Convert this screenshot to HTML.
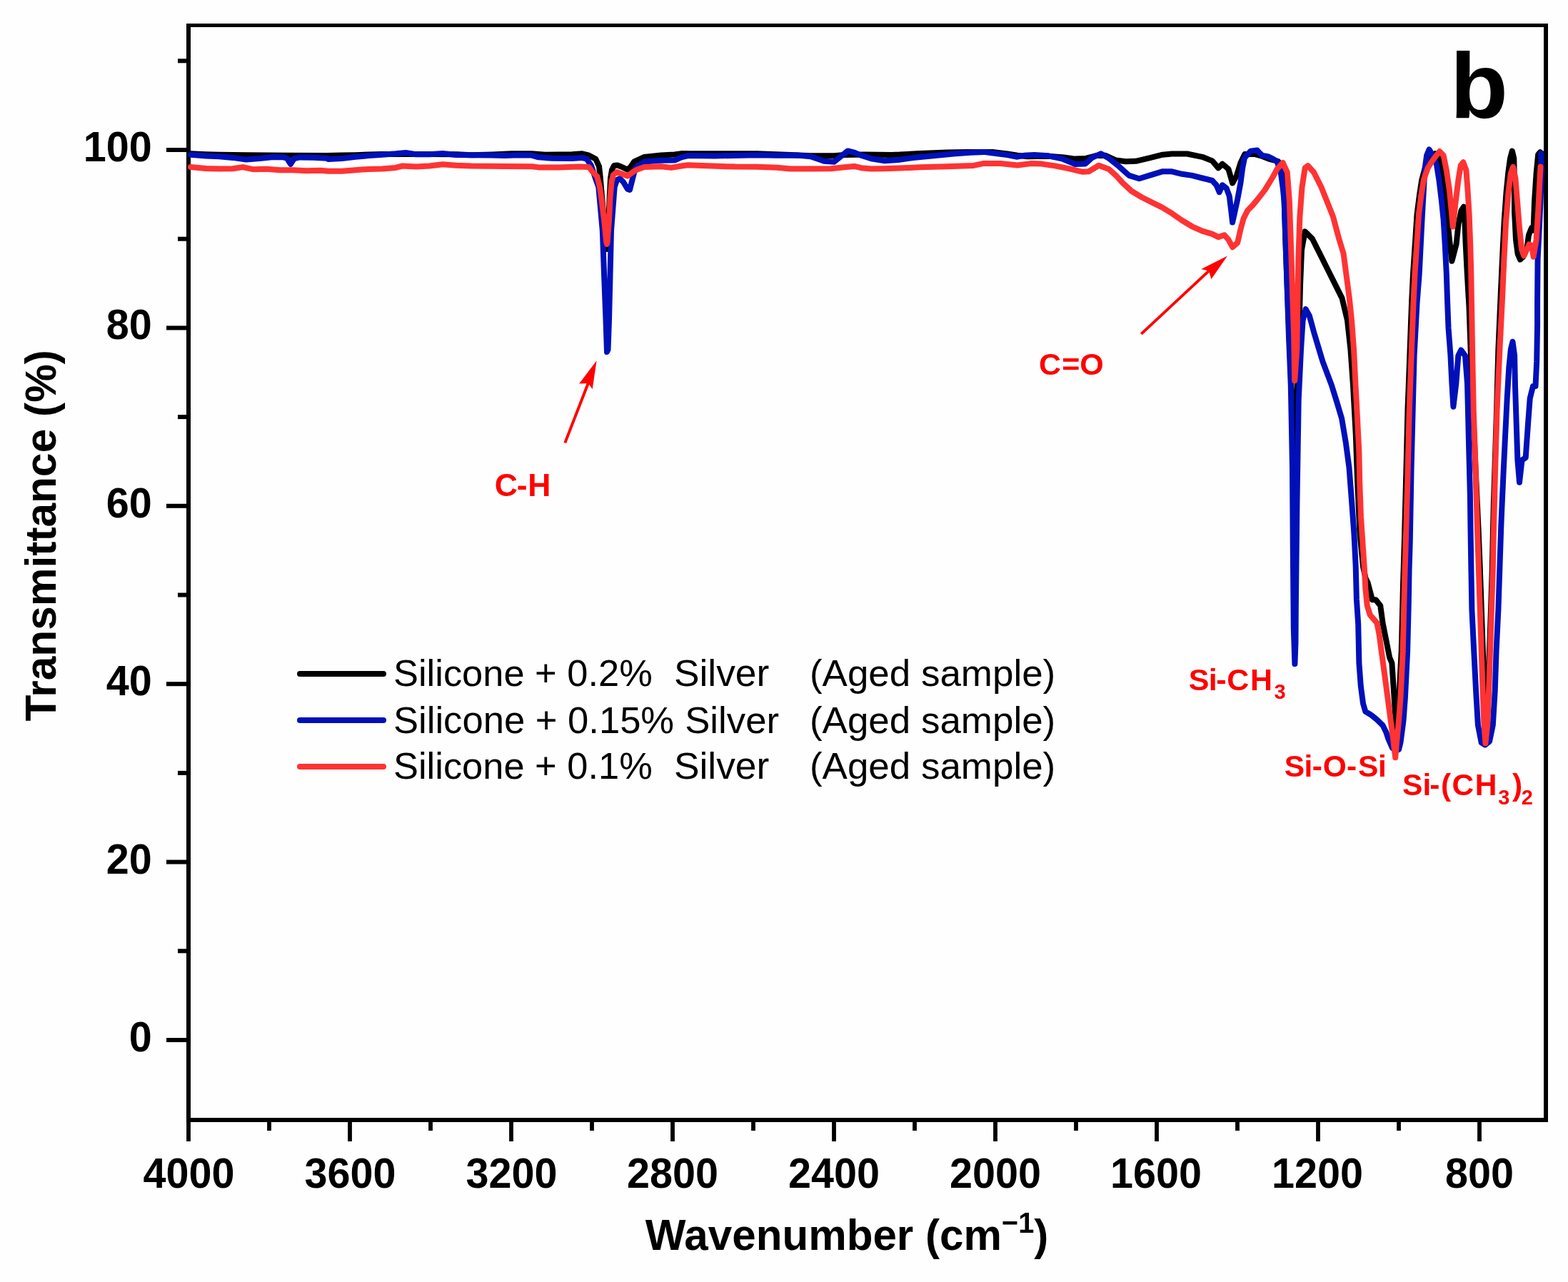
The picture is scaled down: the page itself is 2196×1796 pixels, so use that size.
<!DOCTYPE html>
<html><head><meta charset="utf-8"><title>FTIR spectra</title>
<style>
html,body{margin:0;padding:0;background:#fefefe;overflow:hidden;}
svg{display:block;}
text{font-family:"Liberation Sans",Arial,sans-serif;}
</style></head>
<body>
<svg width="2196" height="1796" viewBox="0 0 2196 1796">
<rect width="2196" height="1796" fill="#fefefe"/>
<rect x="261" y="33" width="1907" height="5" fill="#000"/>
<rect x="261" y="1566" width="1907" height="6" fill="#000"/>
<rect x="261" y="33" width="6" height="1539" fill="#000"/>
<rect x="2162" y="33" width="6" height="1539" fill="#000"/>
<rect x="233" y="1454.0" width="30" height="6" fill="#000"/>
<rect x="233" y="1204.6" width="30" height="6" fill="#000"/>
<rect x="233" y="955.2" width="30" height="6" fill="#000"/>
<rect x="233" y="705.8" width="30" height="6" fill="#000"/>
<rect x="233" y="456.4" width="30" height="6" fill="#000"/>
<rect x="233" y="207.0" width="30" height="6" fill="#000"/>
<rect x="249" y="1329.3" width="14" height="6" fill="#000"/>
<rect x="249" y="1079.9" width="14" height="6" fill="#000"/>
<rect x="249" y="830.5" width="14" height="6" fill="#000"/>
<rect x="249" y="581.1" width="14" height="6" fill="#000"/>
<rect x="249" y="331.7" width="14" height="6" fill="#000"/>
<rect x="249" y="82.3" width="14" height="6" fill="#000"/>
<rect x="261.1" y="1568" width="5.8" height="31" fill="#000"/>
<rect x="487.1" y="1568" width="5.8" height="31" fill="#000"/>
<rect x="713.1" y="1568" width="5.8" height="31" fill="#000"/>
<rect x="939.1" y="1568" width="5.8" height="31" fill="#000"/>
<rect x="1165.1" y="1568" width="5.8" height="31" fill="#000"/>
<rect x="1391.1" y="1568" width="5.8" height="31" fill="#000"/>
<rect x="1617.1" y="1568" width="5.8" height="31" fill="#000"/>
<rect x="1843.1" y="1568" width="5.8" height="31" fill="#000"/>
<rect x="2069.1" y="1568" width="5.8" height="31" fill="#000"/>
<rect x="374.1" y="1568" width="5.8" height="16" fill="#000"/>
<rect x="600.1" y="1568" width="5.8" height="16" fill="#000"/>
<rect x="826.1" y="1568" width="5.8" height="16" fill="#000"/>
<rect x="1052.1" y="1568" width="5.8" height="16" fill="#000"/>
<rect x="1278.1" y="1568" width="5.8" height="16" fill="#000"/>
<rect x="1504.1" y="1568" width="5.8" height="16" fill="#000"/>
<rect x="1730.1" y="1568" width="5.8" height="16" fill="#000"/>
<rect x="1956.1" y="1568" width="5.8" height="16" fill="#000"/>
<g fill="none" stroke-width="8" stroke-linejoin="round" stroke-linecap="round">
<polyline stroke="#000" points="267.0,215.3 288.0,216.2 307.0,216.7 345.0,217.2 400.0,217.7 458.0,218.1 478.8,217.5 497.7,217.2 516.5,216.5 535.0,216.0 600.0,216.0 640.0,216.2 660.0,217.2 690.0,216.5 716.5,215.3 744.8,215.3 763.6,216.7 801.3,216.2 815.4,215.3 824.9,217.7 834.3,222.8 839.0,233.0 840.6,247.0 843.0,275.0 847.0,320.0 850.0,349.0 852.0,320.0 853.5,280.0 855.0,250.0 857.0,238.0 860.0,232.0 864.7,231.5 870.0,233.5 878.8,237.7 883.0,234.0 888.3,226.4 902.4,220.0 925.9,217.4 944.8,216.5 954.2,215.1 968.3,215.3 1060.0,215.3 1107.1,216.9 1135.4,218.3 1168.3,218.3 1182.5,217.0 1210.7,216.4 1248.4,216.9 1260.0,216.6 1288.3,215.0 1325.9,213.6 1354.2,213.1 1391.9,213.1 1410.7,215.5 1424.9,217.8 1439.0,219.3 1468.3,218.8 1490.0,220.5 1505.9,222.6 1520.1,222.1 1535.0,218.0 1548.3,217.8 1562.5,224.4 1576.6,226.3 1590.7,225.8 1609.6,221.4 1628.4,216.7 1641.3,215.5 1662.5,215.5 1683.7,219.8 1697.8,225.4 1706.3,235.3 1712.0,229.7 1720.4,236.7 1726.1,256.5 1731.7,246.6 1737.4,228.3 1743.2,216.1 1757.0,216.0 1768.0,219.0 1777.0,222.6 1790.0,226.0 1796.7,235.3 1798.7,282.9 1800.7,345.0 1803.0,407.0 1805.5,469.0 1808.5,540.0 1811.0,600.0 1813.5,662.0 1815.5,600.0 1817.0,540.0 1819.0,480.0 1821.0,400.0 1823.0,350.0 1827.7,324.4 1838.0,334.7 1848.4,355.4 1858.8,376.2 1869.1,396.9 1879.5,417.6 1887.0,448.7 1891.5,490.2 1895.0,540.0 1898.8,609.2 1901.3,678.3 1904.5,747.5 1909.0,793.6 1912.5,810.0 1915.5,816.1 1921.9,840.3 1926.8,840.3 1933.2,848.4 1936.5,872.6 1941.3,896.8 1946.1,921.0 1949.4,929.0 1951.0,953.2 1952.6,977.4 1954.2,1001.6 1955.3,1030.0 1956.2,1030.0 1957.5,1010.0 1959.5,977.0 1961.0,945.0 1962.7,913.0 1963.5,880.0 1964.3,848.0 1965.1,816.0 1966.8,760.0 1969.5,655.0 1971.4,576.7 1974.3,498.3 1977.0,425.0 1979.0,383.6 1981.8,342.1 1984.5,300.6 1988.0,273.0 1991.2,252.2 1995.0,238.0 1999.0,226.0 2004.0,218.0 2010.0,215.0 2014.7,217.7 2018.8,238.4 2023.0,266.1 2026.4,300.6 2029.9,335.2 2033.4,365.7 2039.6,342.1 2042.4,314.5 2046.5,295.1 2050.0,289.6 2051.3,307.6 2052.7,342.1 2054.8,383.6 2057.5,430.0 2060.0,500.0 2063.0,576.0 2066.5,655.0 2070.5,740.0 2072.8,797.0 2074.8,854.0 2076.8,911.0 2078.8,968.0 2080.2,1000.0 2081.3,1018.0 2082.5,1000.0 2084.2,968.0 2086.0,911.0 2088.0,854.0 2089.8,797.0 2091.0,740.0 2092.0,700.0 2094.0,640.0 2096.0,575.0 2098.4,489.0 2101.4,420.0 2104.0,362.3 2106.7,309.3 2109.5,270.0 2112.5,240.0 2115.0,222.0 2117.8,211.5 2120.3,222.0 2120.8,250.0 2121.0,296.0 2123.0,336.0 2125.7,356.0 2129.0,363.6 2133.0,360.0 2138.3,349.1 2141.0,329.2 2145.0,319.2 2147.6,322.5 2149.0,282.8 2151.6,243.0 2154.2,216.5 2156.9,213.2 2159.5,215.2"/>
<polyline stroke="#0010b8" points="267.0,216.7 288.3,218.6 307.1,219.3 325.9,220.9 344.8,223.6 363.6,222.1 382.5,220.0 396.6,220.3 402.0,222.0 407.0,229.8 412.0,222.0 420.2,220.4 439.0,220.7 457.8,221.7 460.0,223.1 478.8,222.1 497.7,219.8 516.5,218.1 535.4,216.7 554.2,215.3 568.3,213.9 582.5,216.2 601.3,216.2 620.1,215.1 639.0,217.0 660.0,217.2 688.3,217.4 707.1,218.1 725.9,217.2 744.8,217.6 754.2,220.3 773.0,221.7 801.3,221.9 815.4,220.9 822.0,223.0 828.0,232.0 834.0,250.0 838.3,262.0 843.8,323.0 846.1,386.0 848.5,448.0 850.0,493.0 851.5,490.0 853.0,448.0 854.5,386.0 856.0,323.0 858.4,292.0 860.7,262.0 864.0,252.0 868.0,250.0 873.0,255.0 879.0,265.0 882.0,266.0 886.0,250.0 890.0,235.0 902.4,226.6 925.9,224.7 944.8,224.5 954.2,220.3 963.6,218.1 1001.3,218.4 1060.0,217.3 1088.3,217.8 1116.5,217.6 1135.4,219.2 1154.2,225.8 1168.3,226.7 1177.8,219.0 1187.2,211.5 1196.6,213.6 1206.0,217.6 1220.2,222.3 1239.0,225.3 1258.0,224.0 1278.8,221.1 1307.1,218.3 1335.4,215.5 1358.9,213.8 1377.8,212.9 1396.6,215.3 1410.7,217.1 1424.9,219.7 1434.3,217.8 1448.4,217.1 1468.3,218.3 1487.1,222.3 1505.9,230.0 1520.1,229.4 1529.5,220.9 1541.7,215.3 1553.0,221.8 1567.2,233.2 1581.3,245.9 1595.4,250.3 1609.6,245.9 1628.4,240.2 1641.3,240.3 1655.4,243.8 1669.6,245.9 1683.7,249.5 1697.8,253.0 1703.5,259.3 1707.7,269.2 1711.9,259.3 1717.6,263.6 1721.8,274.9 1724.7,298.9 1726.1,311.6 1728.9,298.9 1733.2,279.1 1737.4,256.5 1740.2,235.3 1743.0,221.2 1751.5,211.6 1760.6,210.4 1764.3,214.6 1768.1,218.0 1775.6,219.1 1783.2,222.9 1788.5,225.9 1793.9,242.4 1796.7,263.6 1798.7,282.9 1800.7,345.1 1802.8,407.3 1804.9,469.4 1807.8,540.0 1810.0,655.0 1810.8,770.0 1811.8,880.0 1813.4,930.0 1814.5,900.0 1814.8,850.0 1816.5,700.0 1818.7,560.0 1822.0,490.0 1824.6,448.7 1828.7,433.2 1833.9,442.5 1840.1,465.3 1846.3,486.0 1852.5,506.7 1858.8,523.3 1865.0,539.9 1872.2,563.0 1879.1,586.1 1884.9,620.7 1889.5,655.2 1893.0,701.4 1896.4,747.5 1898.7,793.6 1899.9,839.7 1902.2,874.3 1903.4,929.0 1905.8,961.3 1909.0,985.5 1912.3,996.8 1920.3,1001.6 1928.4,1008.1 1936.5,1016.1 1941.3,1025.8 1944.5,1035.5 1950.0,1048.0 1955.0,1052.0 1959.0,1050.0 1961.5,1040.0 1965.5,1009.7 1967.9,977.4 1969.5,945.2 1971.1,912.9 1971.9,880.6 1972.7,848.4 1973.5,800.0 1974.7,760.0 1976.6,655.0 1978.6,576.7 1980.6,498.3 1984.5,425.0 1987.7,383.6 1989.8,342.1 1991.9,300.6 1993.9,266.1 1995.3,238.4 1998.1,217.7 2001.5,209.4 2006.4,217.7 2011.9,230.1 2015.4,252.2 2018.8,279.9 2021.6,307.6 2023.7,342.1 2025.8,383.6 2027.0,420.0 2028.5,459.2 2031.5,498.3 2033.4,537.5 2035.4,569.8 2039.3,537.5 2042.3,498.3 2046.2,490.5 2052.0,498.3 2055.0,537.5 2056.0,576.7 2056.9,615.8 2057.9,655.0 2058.9,694.2 2059.5,740.0 2060.4,797.0 2061.4,854.1 2064.2,911.1 2067.1,968.1 2069.9,1015.7 2074.7,1040.4 2079.8,1043.5 2086.1,1038.5 2090.8,1015.7 2093.7,968.1 2095.6,911.1 2098.4,854.1 2100.3,797.0 2102.2,740.0 2103.0,720.0 2105.6,661.9 2108.1,610.1 2110.7,558.2 2113.3,515.0 2115.9,489.1 2118.5,478.7 2121.1,497.8 2122.0,540.9 2123.7,592.8 2125.4,644.6 2128.0,675.7 2131.5,644.6 2136.7,641.2 2140.1,592.8 2142.7,558.2 2147.0,541.0 2150.5,541.0 2152.2,506.4 2153.1,454.6 2153.1,420.0 2153.6,362.3 2155.6,322.6 2157.5,282.8 2158.9,243.0 2158.2,215.2"/>
<polyline stroke="#ff3333" points="267.0,233.9 288.3,236.0 307.1,236.5 325.9,236.3 340.1,234.1 354.2,237.2 373.0,236.7 391.9,238.2 410.7,238.2 429.6,239.3 448.4,238.8 460.0,239.8 478.8,239.8 497.7,238.2 516.5,236.9 535.4,236.5 554.2,234.9 563.6,232.5 582.5,233.4 601.3,232.5 620.1,230.3 639.0,231.7 660.0,232.5 707.1,233.0 744.8,233.2 754.2,234.4 782.5,234.6 810.7,233.6 824.9,234.1 829.6,240.5 836.2,247.1 840.0,262.0 842.2,277.0 846.1,308.0 849.2,339.0 850.0,342.0 850.6,339.0 853.0,308.0 854.5,277.0 856.5,255.0 859.0,245.0 864.0,241.0 869.4,243.0 878.8,246.6 888.0,240.0 893.0,237.2 902.4,233.9 925.9,233.2 940.1,234.9 954.2,232.5 963.6,231.3 982.5,232.0 1010.7,233.0 1029.6,233.6 1060.0,233.8 1088.3,234.8 1107.1,236.6 1135.4,236.5 1163.6,236.2 1182.5,234.3 1196.6,232.9 1206.0,235.2 1220.2,236.5 1239.0,236.2 1260.0,235.6 1288.3,234.3 1325.9,233.2 1363.6,231.9 1377.8,228.9 1401.3,229.1 1424.9,231.5 1443.7,229.1 1458.8,229.6 1477.7,232.4 1496.5,236.2 1515.4,240.7 1524.8,240.2 1538.9,231.7 1553.0,236.9 1562.5,245.4 1571.9,255.8 1584.8,267.8 1598.9,276.3 1613.0,283.4 1627.2,290.4 1641.3,298.9 1655.4,308.8 1669.6,317.3 1683.7,323.6 1697.8,327.9 1706.3,332.1 1714.8,329.3 1720.4,335.7 1726.1,346.2 1733.2,339.9 1737.4,321.5 1741.6,306.0 1747.3,294.7 1754.3,287.6 1761.4,279.1 1771.3,266.4 1782.6,248.0 1788.3,237.3 1791.1,233.9 1796.6,228.0 1802.8,241.5 1805.9,282.9 1808.0,345.1 1810.0,407.3 1812.1,469.4 1813.2,533.3 1816.3,490.2 1817.3,428.0 1818.3,365.8 1820.4,303.6 1823.5,262.2 1827.7,235.2 1831.8,232.1 1840.1,241.5 1850.5,262.2 1858.8,282.9 1867.0,303.6 1875.3,334.7 1881.6,355.4 1885.7,386.5 1889.8,417.6 1893.0,448.7 1896.1,490.2 1898.1,531.6 1901.0,586.1 1903.3,632.2 1904.3,678.3 1906.0,724.4 1909.1,770.5 1911.4,805.1 1912.3,824.2 1914.7,848.4 1918.7,861.3 1928.4,872.6 1931.6,888.7 1934.8,912.9 1938.1,937.1 1941.3,961.3 1944.5,985.5 1947.7,1009.7 1951.0,1033.9 1954.2,1061.3 1955.8,1041.9 1959.0,1009.7 1961.5,977.4 1963.1,945.2 1964.7,912.9 1965.5,880.6 1966.3,848.4 1967.1,816.1 1968.8,760.0 1971.8,655.0 1973.7,576.7 1976.6,498.3 1979.5,425.0 1981.5,383.6 1984.3,342.1 1987.0,300.6 1990.5,273.0 1993.9,252.2 1999.5,235.6 2006.4,224.6 2016.1,212.1 2021.6,217.7 2025.8,238.4 2029.9,266.1 2033.4,302.0 2034.7,317.5 2038.2,286.8 2042.4,252.2 2045.8,231.5 2049.3,227.3 2053.4,238.4 2055.5,266.1 2057.6,300.6 2059.2,342.1 2060.3,383.6 2061.0,425.0 2062.2,498.0 2063.8,576.7 2066.5,655.0 2069.0,740.0 2070.9,797.0 2072.8,854.1 2074.7,911.1 2076.6,968.1 2078.5,1015.7 2080.4,1041.3 2083.2,1015.7 2085.1,968.1 2087.0,911.1 2088.9,854.1 2090.8,797.0 2092.0,740.0 2094.2,655.0 2096.5,575.0 2100.4,489.1 2103.9,420.1 2106.5,362.3 2109.2,309.3 2112.5,269.5 2115.8,243.0 2119.1,233.8 2122.4,249.7 2125.1,282.8 2127.7,315.9 2131.0,349.1 2134.3,358.3 2138.3,349.1 2141.6,342.4 2145.0,343.8 2147.6,359.7 2151.6,335.8 2154.2,296.0 2156.2,256.3 2157.5,233.7"/>
</g>
<line x1="420" y1="944" x2="537" y2="944" stroke="#000" stroke-width="8" stroke-linecap="round"/>
<line x1="420" y1="1009" x2="537" y2="1009" stroke="#0010b8" stroke-width="8" stroke-linecap="round"/>
<line x1="420" y1="1074" x2="537" y2="1074" stroke="#ff3333" stroke-width="8" stroke-linecap="round"/>
<text transform="translate(180.80,1472.90) scale(0.9750,1)" font-size="59" font-weight="bold" fill="#000">0</text>
<text transform="translate(148.80,1223.50) scale(0.9750,1)" font-size="59" font-weight="bold" fill="#000">20</text>
<text transform="translate(148.80,974.10) scale(0.9750,1)" font-size="59" font-weight="bold" fill="#000">40</text>
<text transform="translate(148.80,724.70) scale(0.9750,1)" font-size="59" font-weight="bold" fill="#000">60</text>
<text transform="translate(148.80,475.30) scale(0.9750,1)" font-size="59" font-weight="bold" fill="#000">80</text>
<text transform="translate(116.80,225.90) scale(0.9750,1)" font-size="59" font-weight="bold" fill="#000">100</text>
<text transform="translate(200.50,1664.30) scale(0.9750,1)" font-size="59" font-weight="bold" fill="#000">4000</text>
<text transform="translate(426.50,1664.30) scale(0.9750,1)" font-size="59" font-weight="bold" fill="#000">3600</text>
<text transform="translate(652.50,1664.30) scale(0.9750,1)" font-size="59" font-weight="bold" fill="#000">3200</text>
<text transform="translate(878.00,1664.30) scale(0.9750,1)" font-size="59" font-weight="bold" fill="#000">2800</text>
<text transform="translate(1104.00,1664.30) scale(0.9750,1)" font-size="59" font-weight="bold" fill="#000">2400</text>
<text transform="translate(1330.00,1664.30) scale(0.9750,1)" font-size="59" font-weight="bold" fill="#000">2000</text>
<text transform="translate(1555.00,1664.30) scale(0.9750,1)" font-size="59" font-weight="bold" fill="#000">1600</text>
<text transform="translate(1781.00,1664.30) scale(0.9750,1)" font-size="59" font-weight="bold" fill="#000">1200</text>
<text transform="translate(2024.00,1664.30) scale(0.9750,1)" font-size="59" font-weight="bold" fill="#000">800</text>
<text transform="translate(903.81,1750.80) scale(0.9701,1)" font-size="62" font-weight="bold" fill="#000">Wavenumber (cm<tspan font-size="41" dy="-24">−1</tspan><tspan dy="24">)</tspan></text>
<text transform="translate(78.30,1010.39) rotate(-90) scale(0.9825,1)" font-size="61.5" font-weight="bold" fill="#000">Transmittance (%)</text>
<text transform="translate(2030.78,164.80) scale(1.0246,1)" font-size="130" font-weight="bold" fill="#000">b</text>
<text transform="translate(551.00,961.00) scale(0.9986,1)" font-size="52.5" font-weight="normal" fill="#000">Silicone + 0.2%</text>
<text transform="translate(943.95,961.00) scale(1.0157,1)" font-size="52.5" font-weight="normal" fill="#000">Silver</text>
<text transform="translate(1133.97,961.00) scale(1.0084,1)" font-size="52.5" font-weight="normal" fill="#000">(Aged sample)</text>
<text transform="translate(550.99,1026.70) scale(1.0018,1)" font-size="52.5" font-weight="normal" fill="#000">Silicone + 0.15%</text>
<text transform="translate(959.19,1026.70) scale(1.0047,1)" font-size="52.5" font-weight="normal" fill="#000">Silver</text>
<text transform="translate(1133.97,1026.70) scale(1.0084,1)" font-size="52.5" font-weight="normal" fill="#000">(Aged sample)</text>
<text transform="translate(551.00,1091.20) scale(0.9986,1)" font-size="52.5" font-weight="normal" fill="#000">Silicone + 0.1%</text>
<text transform="translate(943.95,1091.20) scale(1.0157,1)" font-size="52.5" font-weight="normal" fill="#000">Silver</text>
<text transform="translate(1133.97,1091.20) scale(1.0084,1)" font-size="52.5" font-weight="normal" fill="#000">(Aged sample)</text>
<g fill="#ff0000" font-weight="bold">
<text y="694.5" font-size="44.5" x="692.8 723.7 739.2">C-H</text>
<text y="525.3" font-size="43" x="1455.0 1487.3 1512.3">C=O</text>
<text y="1088.3" font-size="42.5" x="1798.7 1826.6 1837.8 1852.7 1885.9 1901.9 1930.1">Si-O-Si</text>
<text y="967.4" font-size="43"><tspan x="1664.8 1692.7 1703.2 1718.3 1751.1">Si-CH</tspan><tspan x="1784.4" dy="11.2" font-size="29">3</tspan></text>
<text y="1114.2" font-size="42.5"><tspan x="1964.0 1992.6 2002.3 2017.9 2033.4 2065.8">Si-(CH</tspan><tspan x="2098.3" dy="12.4" font-size="29">3</tspan><tspan x="2118.0" dy="-12.4">)</tspan><tspan x="2130.7" dy="12.4" font-size="29">2</tspan></text>
</g>
<line x1="791.3" y1="620.4" x2="823.7" y2="537" stroke="#ff0000" stroke-width="4"/><polygon fill="#ff0000" points="835.6,505.2 829.7,544.9 823.7,537 811.1,537.6"/>
<line x1="1598.3" y1="467.9" x2="1692.9" y2="379.6" stroke="#ff0000" stroke-width="4"/><polygon fill="#ff0000" points="1719,358.4 1696.5,390.9 1692.9,379.6 1682.3,377"/>
</svg>
</body></html>
